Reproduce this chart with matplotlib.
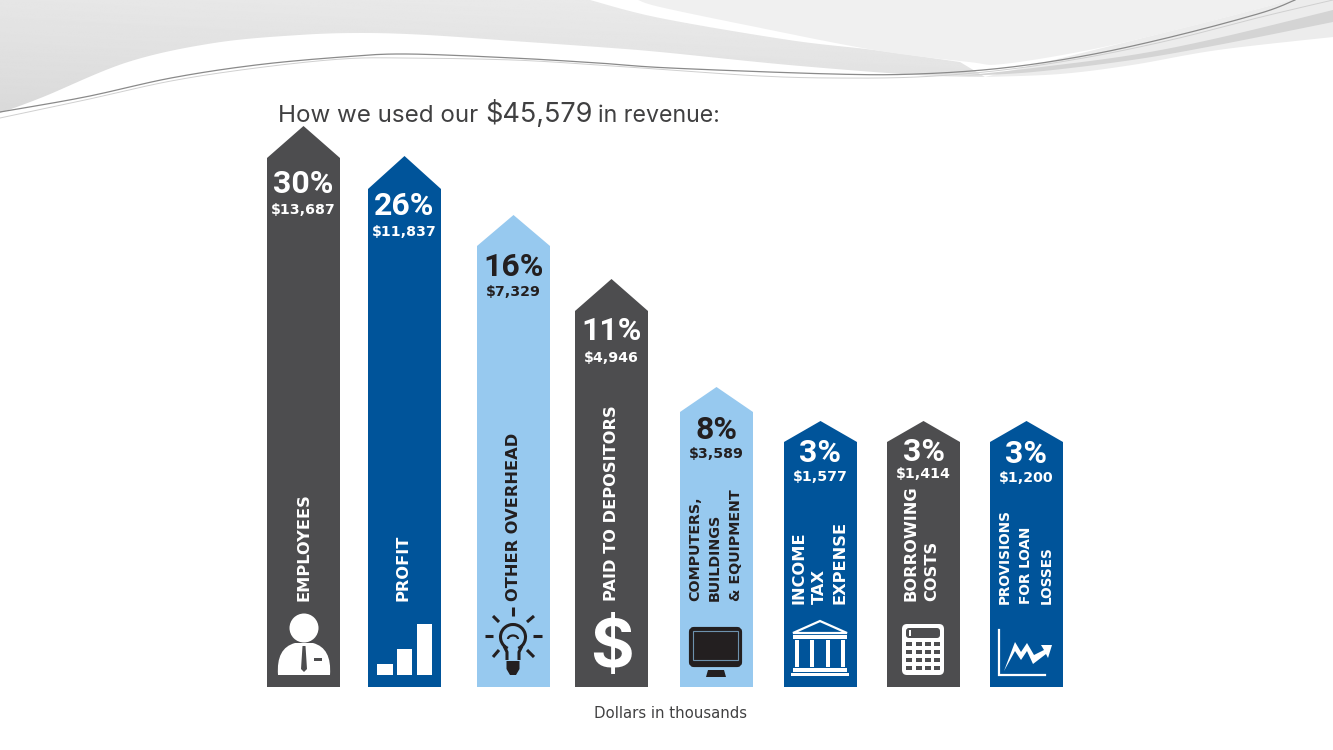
import numpy as np
import matplotlib
matplotlib.use("Agg")
import matplotlib.pyplot as plt
from matplotlib.patches import Polygon, Rectangle, Circle, FancyBboxPatch, Arc, PathPatch
from matplotlib.path import Path

FONT = "Inter"
WIDE = "DejaVu Sans"
DARK = "#4d4d4f"
BLUE = "#00549a"
LIGHT = "#97c9ef"
INK = "#231f20"

# chart content
percents = ["30%", "26%", "16%", "11%", "8%", "3%", "3%", "3%"]
dollars = ["$13,687", "$11,837", "$7,329", "$4,946", "$3,589", "$1,577", "$1,414", "$1,200"]
labels = [
    ["EMPLOYEES"],
    ["PROFIT"],
    ["OTHER OVERHEAD"],
    ["PAID TO DEPOSITORS"],
    ["COMPUTERS,", "BUILDINGS", "& EQUIPMENT"],
    ["INCOME", "TAX", "EXPENSE"],
    ["BORROWING", "COSTS"],
    ["PROVISIONS", "FOR LOAN", "LOSSES"],
]
colors = [DARK, BLUE, LIGHT, DARK, LIGHT, BLUE, DARK, BLUE]

# the arrows are a pictogram, not to scale: geometry in pixels
lefts = [267, 368, 477, 575, 680, 784, 887, 990]
tips = [126, 156, 215, 279, 387, 421, 421, 421]
shoulders = [158, 189, 246, 311, 412, 442, 442, 442]
WIDTH = 73
BASE = 687

pct_y = [184, 206, 267, 331, 430, 453, 452, 454]
dollar_y = [210, 232, 292, 358, 454, 477, 474, 478]
label_x = [[304], [403], [513], [611], [695, 715, 736], [799, 819, 840], [911, 932], [1005, 1026, 1047]]
label_bottom = [601, 601, 601, 601, 601, 604, 601, 604]
label_size = [11.7, 11.7, 11.7, 11.7, 10.3, 11.7, 11.7, 9.8]

# background swoosh outlines
grey_edge = [(0, 113), (43, 97), (128, 62), (214, 43), (299, 35), (363, 33), (427, 35), (513, 41),
             (598, 47), (660, 52), (789, 65), (917, 75), (985, 77)]
grey_top = [(960, 62), (874, 50), (789, 40), (660, 18), (590, 0)]
pale_edge = [(638, 0), (660, 7), (746, 25), (874, 50), (969, 62), (1003, 64), (1089, 50), (1175, 30), (1261, 8), (1290, 0)]
band_low = [(985, 77), (1060, 74), (1132, 65), (1218, 50), (1333, 37)]
band_dark_top = [(960, 76), (1033, 68), (1132, 55), (1218, 38), (1333, 10)]
band_dark_low = [(960, 76), (1033, 72), (1132, 60), (1218, 45), (1333, 22)]
thin_line = [(0, 112), (85, 97), (171, 78), (256, 65), (342, 57), (406, 54), (513, 58), (598, 63),
             (670, 68), (832, 74), (917, 74), (1003, 68), (1089, 55), (1175, 36), (1261, 13), (1295, 0)]
thin_line2 = [(0, 118), (85, 100), (171, 81), (256, 68), (342, 59), (406, 58), (513, 60), (598, 65),
              (670, 70), (760, 76), (832, 78), (917, 77), (1003, 70), (1089, 57), (1175, 39), (1261, 17), (1333, 0)]


def smooth(points, n=16):
    """Catmull-Rom through the points."""
    p = np.array(points, dtype=float)
    p = np.vstack([p[0], p, p[-1]])
    out = []
    for i in range(1, len(p) - 2):
        t = np.linspace(0, 1, n, endpoint=False)[:, None]
        a, b, c, d = p[i - 1], p[i], p[i + 1], p[i + 2]
        out.append(0.5 * (2 * b + (c - a) * t + (2 * a - 5 * b + 4 * c - d) * t ** 2
                          + (3 * b - a - 3 * c + d) * t ** 3))
    out.append(p[-2][None, :])
    return np.vstack(out)


def draw_background(ax):
    left = np.vstack([[(0, 0)], smooth(grey_edge), smooth(grey_top)])
    poly = Polygon(left, closed=True, fc="none", ec="none")
    ax.add_patch(poly)
    grad = np.linspace(0.93, 0.84, 256)[:, None] * 0.6 + np.linspace(0.86, 0.92, 256)[None, :] * 0.4
    im = ax.imshow(grad, extent=(0, 1000, 120, 0), cmap="gray", vmin=0, vmax=1, aspect="auto", zorder=1)
    im.set_clip_path(poly)
    ax.set_xlim(0, 1333)
    ax.set_ylim(750, 0)

    pale = np.vstack([smooth(pale_edge), [(638, 0)]])
    ax.add_patch(Polygon(pale, closed=True, fc="#f0f0f0", ec="none", zorder=1))
    top_right = np.vstack([smooth(pale_edge)[-30:], [(1333, 0)], [(1333, 37)],
                           smooth(band_low)[::-1]])
    ax.add_patch(Polygon(top_right, closed=True, fc="#ececec", ec="none", zorder=1))
    dark = np.vstack([smooth(band_dark_top), smooth(band_dark_low)[::-1]])
    ax.add_patch(Polygon(dark, closed=True, fc="#d4d4d4", ec="none", zorder=1.1))

    xy = smooth(thin_line2)
    ax.plot(xy[:, 0], xy[:, 1], color="#d0d0d0", lw=0.7, zorder=1.2)
    xy = smooth(thin_line)
    ax.plot(xy[:, 0], xy[:, 1], color="#8a8a8a", lw=0.9, zorder=1.3)


def person(ax, cx):
    ax.add_patch(Circle((cx, 628), 14.5, fc="white", ec="none", zorder=4))
    body = Path([(cx - 26, 675), (cx - 28, 648), (cx - 9, 643), (cx + 9, 643), (cx + 28, 648), (cx + 26, 675), (cx - 26, 675)],
                [Path.MOVETO, Path.CURVE3, Path.CURVE3, Path.LINETO, Path.CURVE3, Path.CURVE3, Path.CLOSEPOLY])
    ax.add_patch(PathPatch(body, fc="white", ec="none", zorder=4))
    ax.add_patch(Polygon([(cx - 1.5, 646), (cx + 1.5, 646), (cx + 3, 669), (cx, 672), (cx - 3, 669)], fc=DARK, ec="none", zorder=5))
    ax.add_patch(Rectangle((cx + 10, 658), 8, 2.5, fc=DARK, ec="none", zorder=5))


def steps(ax):
    for x0, x1, y0 in [(377, 393, 664), (397, 412, 649), (417, 432, 624)]:
        ax.add_patch(Rectangle((x0, y0), x1 - x0, 675 - y0, fc="white", ec="none", zorder=4))


def bulb(ax, cx):
    kw = dict(color=INK, lw=2.2, zorder=4, solid_capstyle="butt")
    for x0, y0, x1, y1 in [(cx, 607, cx, 616), (cx - 28, 635.5, cx - 20, 635.5), (cx + 20, 635.5, cx + 29, 635.5),
                           (cx - 20, 616, cx - 14, 622), (cx + 21, 616, cx + 14, 622),
                           (cx - 20, 657, cx - 14, 650), (cx + 21, 657, cx + 14, 650)]:
        ax.plot([x0, x1], [y0, y1], **kw)
    ax.add_patch(Arc((cx, 637), 25, 25, theta1=115, theta2=65, ec=INK, lw=2.2, zorder=4))
    ax.plot([cx - 9, cx - 6, cx - 6], [646, 652, 660], **kw)
    ax.plot([cx + 9, cx + 6, cx + 6], [646, 652, 660], **kw)
    ax.add_patch(Arc((cx, 639), 10, 7, theta1=180, theta2=360, ec=INK, lw=1.6, zorder=4))
    ax.add_patch(Polygon([(cx - 6.5, 661), (cx + 6.5, 661), (cx + 6.5, 669), (cx + 3, 675), (cx - 3, 675), (cx - 6.5, 669)], fc=INK, ec="none", zorder=4))


def monitor(ax):
    ax.add_patch(FancyBboxPatch((691, 629), 49, 36, boxstyle="round,pad=0,rounding_size=3", fc=INK, ec=INK, lw=3, zorder=4))
    ax.add_patch(Rectangle((693, 631), 45, 29, fc=INK, ec="#6d91ad", lw=0.8, zorder=5))
    ax.add_patch(Polygon([(708, 670), (724, 670), (726, 677), (706, 677)], fc=INK, ec="none", zorder=4))


def bank(ax, cx):
    ax.add_patch(Polygon([(cx, 621), (cx + 27, 633), (cx - 27, 633)], fc="none", ec="white", lw=1.6, zorder=4))
    ax.add_patch(Rectangle((cx - 27, 635), 54, 3.5, fc="white", ec="none", zorder=4))
    for dx in (-23, -8, 8, 23):
        ax.add_patch(Rectangle((cx + dx - 1.7, 640), 3.4, 27, fc="white", ec="none", zorder=4))
    ax.add_patch(Rectangle((cx - 27, 668), 54, 3.5, fc="white", ec="none", zorder=4))
    ax.add_patch(Rectangle((cx - 29, 673), 58, 3, fc="white", ec="none", zorder=4))


def calculator(ax):
    ax.add_patch(FancyBboxPatch((902, 624), 42, 51, boxstyle="round,pad=0,rounding_size=5", fc="white", ec="none", zorder=4))
    ax.add_patch(FancyBboxPatch((906, 628), 34, 10, boxstyle="round,pad=0,rounding_size=3", fc=DARK, ec="none", zorder=5))
    ax.add_patch(Rectangle((908.5, 630), 2, 6, fc="white", ec="none", zorder=6))
    for ky in (644, 652, 660, 668):
        for kx in (909, 919, 928, 937):
            ax.add_patch(Rectangle((kx - 3, ky - 2), 6, 4, fc=DARK, ec="none", zorder=5))


def trend(ax):
    ax.plot([999, 999, 1045], [630, 674.5, 674.5], color="white", lw=1.6, zorder=4, solid_joinstyle="miter")
    ax.add_patch(Polygon([(1004, 671), (1015, 642), (1021, 652), (1027, 643), (1034, 655), (1044, 650), (1041, 645),
                          (1052, 645), (1048, 658), (1046, 654), (1033, 664), (1027, 651), (1021, 660), (1015, 651)],
                         fc="white", ec="none", zorder=4))


fig = plt.figure(figsize=(13.33, 7.5), dpi=100)
ax = fig.add_axes([0, 0, 1, 1])
ax.set_xlim(0, 1333)
ax.set_ylim(750, 0)
ax.axis("off")

draw_background(ax)

for i, pct in enumerate(percents):
    x0 = lefts[i]
    cx = x0 + WIDTH / 2
    ax.add_patch(Polygon([(x0, BASE), (x0, shoulders[i]), (cx, tips[i]), (x0 + WIDTH, shoulders[i]), (x0 + WIDTH, BASE)],
                         closed=True, fc=colors[i], ec="none", zorder=2))
    txt = INK if colors[i] == LIGHT else "white"
    ax.text(cx, pct_y[i], pct, color=txt, family="Roboto", fontweight="bold", fontsize=23,
            ha="center", va="center", zorder=3)
    ax.text(cx, dollar_y[i], dollars[i], color=txt, family=WIDE, fontweight="bold", fontsize=10.2,
            ha="center", va="center", zorder=3)
    for lx, line in zip(label_x[i], labels[i]):
        ax.text(lx, label_bottom[i], line, color=txt, family=WIDE, fontweight="bold", fontsize=label_size[i],
                rotation=90, ha="center", va="bottom", zorder=3)

person(ax, 304)
steps(ax)
bulb(ax, 513)
ax.text(612, 650, "$", color="white", family=FONT, fontweight="bold", fontsize=48, ha="center", va="center", zorder=4)
monitor(ax)
bank(ax, 820)
calculator(ax)
trend(ax)

ax.text(278, 122, "How we used our", color="#404041", family=FONT, fontsize=17.4, ha="left", va="baseline", zorder=3)
ax.text(485, 122, "$45,579", color="#404041", family=FONT, fontsize=19.5, ha="left", va="baseline", zorder=3)
ax.text(598, 122, "in revenue:", color="#404041", family=FONT, fontsize=16.7, ha="left", va="baseline", zorder=3)
ax.text(670, 713, "Dollars in thousands", color="#404041", family=WIDE, fontsize=10.7, ha="center", va="center", zorder=3)

fig.savefig("out.png", dpi=100)
plt.close(fig)
